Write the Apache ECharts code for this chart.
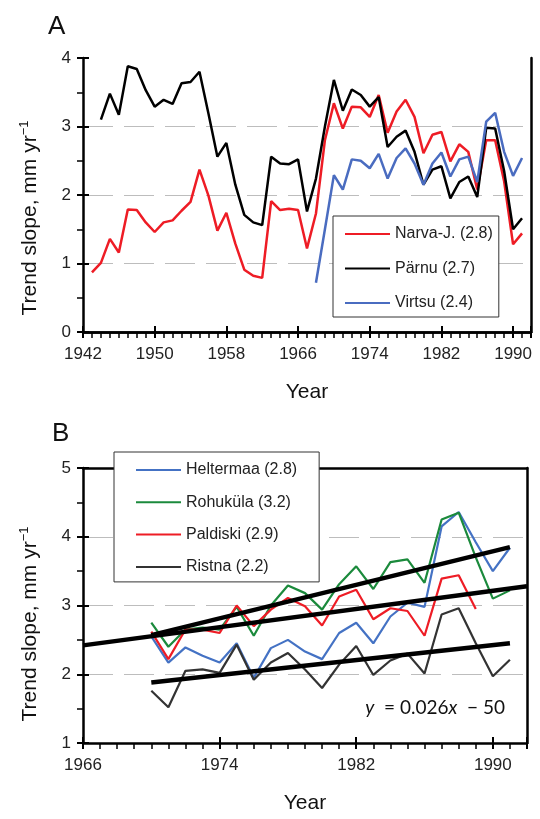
<!DOCTYPE html>
<html>
<head>
<meta charset="utf-8">
<title>Trend slope</title>
<script src="https://cdn.jsdelivr.net/npm/echarts@6/dist/echarts.min.js"></script>
<style>
  html, body { margin: 0; padding: 0; background: #fff; }
  #chart { width: 540px; height: 819px; }
</style>
</head>
<body>
<div id="chart"></div>
<script>
// ---- panel A: one value per year, from the first year on ----
var narvaStart = 1943;
var narvaVals = [0.87, 1.01, 1.36, 1.16, 1.79, 1.78, 1.60, 1.46, 1.60, 1.63,
                 1.77, 1.90, 2.37, 1.99, 1.48, 1.74, 1.29, 0.91, 0.82, 0.79,
                 1.91, 1.78, 1.80, 1.78, 1.22, 1.73, 2.80, 3.34, 2.97, 3.29,
                 3.28, 3.14, 3.46, 2.91, 3.22, 3.39, 3.14, 2.61, 2.88, 2.92,
                 2.49, 2.74, 2.63, 2.08, 2.80, 2.80, 2.20, 1.28, 1.44];
var parnuStart = 1944;
var parnuVals = [3.10, 3.48, 3.17, 3.88, 3.84, 3.53, 3.29, 3.39, 3.33, 3.63,
                 3.65, 3.80, 3.19, 2.56, 2.76, 2.15, 1.71, 1.60, 1.56, 2.56,
                 2.46, 2.45, 2.52, 1.76, 2.24, 3.00, 3.68, 3.23, 3.54, 3.46,
                 3.29, 3.43, 2.70, 2.85, 2.94, 2.63, 2.15, 2.37, 2.42, 1.95,
                 2.19, 2.27, 1.97, 2.98, 2.97, 2.35, 1.50, 1.66];
var virtsuStart = 1968;
var virtsuVals = [0.72, 1.50, 2.29, 2.08, 2.52, 2.50, 2.39, 2.60, 2.24, 2.54,
                  2.68, 2.46, 2.15, 2.46, 2.62, 2.27, 2.52, 2.56, 2.19, 3.07,
                  3.20, 2.63, 2.28, 2.54];

// ---- panel B ----
var startB = 1970;
var heltermaaVals = [2.55, 2.17, 2.39, 2.27, 2.17, 2.45, 1.95, 2.38, 2.50, 2.33,
                     2.22, 2.60, 2.75, 2.45, 2.84, 3.04, 2.98, 4.15, 4.36, 3.92,
                     3.50, 3.84];
var rohukulaVals = [2.75, 2.40, 2.65, 2.68, 2.65, 2.98, 2.56, 3.00, 3.29, 3.18,
                    2.94, 3.31, 3.57, 3.24, 3.63, 3.67, 3.33, 4.25, 4.35, 3.70,
                    3.10, 3.22];
var paldiskiVals = [2.62, 2.22, 2.65, 2.65, 2.60, 3.00, 2.70, 2.94, 3.11, 2.99,
                    2.71, 3.13, 3.23, 2.80, 2.96, 2.92, 2.56, 3.39, 3.44, 2.95];
var ristnaVals = [1.76, 1.52, 2.05, 2.07, 2.02, 2.43, 1.92, 2.17, 2.31, 2.07,
                  1.80, 2.14, 2.41, 1.99, 2.20, 2.30, 2.01, 2.87, 2.96, 2.45,
                  1.97, 2.21];

// fitted trend lines, end points [year, value]
var trendTop = [[1970, 2.57], [1991, 3.85]];
var trendMid = [[1966, 2.42], [1992, 3.28]];
var trendLow = [[1970, 1.88], [1991, 2.45]];

var xTicksA = [1942, 1950, 1958, 1966, 1974, 1982, 1990];
var xTicksB = [1966, 1974, 1982, 1990];
var namesA = ['Narva-J. (2.8)', 'Pärnu (2.7)', 'Virtsu (2.4)'];
var namesB = ['Heltermaa (2.8)', 'Rohuküla (3.2)', 'Paldiski (2.9)', 'Ristna (2.2)'];

var FONT = '"Liberation Sans", Arial, sans-serif';

function toPairs(start, vals) {
  return vals.map(function (v, i) { return [start + i, v]; });
}

// x axes of one panel: main, inner half of the major ticks, top frame
function xAxes(gi, ticks, max) {
  var base = { type: 'value', gridIndex: gi, min: ticks[0], max: max, interval: ticks[1] - ticks[0] };
  return [
    Object.assign({}, base, {
      position: 'bottom',
      axisLine: { lineStyle: { color: '#000', width: 2.5 } },
      axisTick: { length: 6, lineStyle: { color: '#000', width: 2 } },
      minorTick: { show: true, splitNumber: 8, length: 6, lineStyle: { color: '#000', width: 1.5 } },
      axisLabel: {
        margin: 14, fontSize: 17, color: '#222', fontFamily: FONT,
        formatter: function (v) { return ticks.indexOf(v) >= 0 ? String(v) : ''; }
      },
      splitLine: { show: false },
      name: 'Year', nameLocation: 'middle', nameGap: 50,
      nameTextStyle: { fontSize: 21, color: '#111', fontFamily: FONT }
    }),
    Object.assign({}, base, {
      position: 'bottom',
      axisLine: { show: false },
      axisTick: { inside: true, length: 6, lineStyle: { color: '#000', width: 2 } },
      axisLabel: { show: false }, splitLine: { show: false }
    }),
    Object.assign({}, base, {
      position: 'top',
      axisLine: { lineStyle: { color: '#000', width: 2.5 } },
      axisTick: { show: false }, axisLabel: { show: false }, splitLine: { show: false }
    })
  ];
}

function yAxes(gi, min, max) {
  var base = { type: 'value', gridIndex: gi, min: min, max: max, interval: 1 };
  return [
    Object.assign({}, base, {
      position: 'left',
      axisLine: { lineStyle: { color: '#000', width: 2.5 } },
      axisTick: { length: 6, lineStyle: { color: '#000', width: 2 } },
      minorTick: { show: true, splitNumber: 2, length: 6, lineStyle: { color: '#000', width: 1.5 } },
      axisLabel: { margin: 12, fontSize: 17, color: '#222', fontFamily: FONT },
      splitLine: {
        show: true, showMinLine: false, showMaxLine: false,
        lineStyle: { color: '#bdbdbd', width: 1.2, type: [30, 11] }
      }
    }),
    Object.assign({}, base, {
      position: 'left',
      axisLine: { show: false },
      axisTick: { inside: true, length: 6, lineStyle: { color: '#000', width: 2 } },
      axisLabel: { show: false }, splitLine: { show: false }
    }),
    Object.assign({}, base, {
      position: 'right',
      axisLine: { lineStyle: { color: '#000', width: 2.5 } },
      axisTick: { show: false }, axisLabel: { show: false }, splitLine: { show: false }
    })
  ];
}

function station(name, start, vals, color, width, xi, yi) {
  return {
    type: 'line', name: name, xAxisIndex: xi, yAxisIndex: yi,
    data: toPairs(start, vals), symbol: 'none',
    lineStyle: { color: color, width: width }, itemStyle: { color: color }
  };
}

function trend(points) {
  return {
    type: 'line', xAxisIndex: 3, yAxisIndex: 3, data: points, symbol: 'none',
    lineStyle: { color: '#000', width: 4.5 }, z: 3
  };
}

function yName(cy) {
  return {
    type: 'text', x: 30, y: cy, rotation: Math.PI / 2,
    style: {
      text: '{t|Trend slope, mm yr}{s|−1}', align: 'center', verticalAlign: 'middle', fill: '#111',
      rich: {
        t: { fontSize: 21, lineHeight: 25, fontFamily: FONT, fill: '#111' },
        s: { fontSize: 13, verticalAlign: 'top', fontFamily: FONT, fill: '#111' }
      }
    }
  };
}

var chart = echarts.init(document.getElementById('chart'));

var option = {
  animation: false,
  backgroundColor: '#fff',
  grid: [
    { left: 83, right: 9, top: 58, bottom: 487 },
    { left: 83, right: 13, top: 468, bottom: 76 }
  ],
  xAxis: xAxes(0, xTicksA, 1992).concat(xAxes(1, xTicksB, 1992)),
  yAxis: yAxes(0, 0, 4).concat(yAxes(1, 1, 5)),
  legend: [
    {
      data: namesA, orient: 'vertical', left: 333, top: 216,
      itemWidth: 45, itemHeight: 18, itemGap: 16.5, padding: [9, 6, 5, 11],
      borderColor: '#333', borderWidth: 1, backgroundColor: '#fff',
      itemStyle: { opacity: 0 },
      textStyle: { fontSize: 16, lineHeight: 18, color: '#222', fontFamily: FONT }
    },
    {
      data: namesB, orient: 'vertical', left: 114, top: 452,
      itemWidth: 45, itemHeight: 18, itemGap: 14.3, padding: [9, 22, 6, 21],
      borderColor: '#333', borderWidth: 1, backgroundColor: '#fff',
      itemStyle: { opacity: 0 },
      textStyle: { fontSize: 16, lineHeight: 18, color: '#222', fontFamily: FONT }
    }
  ],
  graphic: [
    { type: 'text', left: 48, top: 14, style: { text: 'A', fontSize: 26, fill: '#111', fontFamily: FONT } },
    { type: 'text', left: 52, top: 421, style: { text: 'B', fontSize: 26, fill: '#111', fontFamily: FONT } },
    yName(218),
    yName(624),
    {
      type: 'text', x: 505, y: 708, z: 10,
      style: {
        text: '{i|y}{n|  = 0.026}{i|x}{n|  − 50}', align: 'right', verticalAlign: 'middle',
        rich: {
          i: { fontSize: 19, fontStyle: 'italic', fontFamily: 'Lato, sans-serif', fill: '#111' },
          n: { fontSize: 19, fontFamily: 'Lato, sans-serif', fill: '#111' }
        }
      }
    }
  ],
  series: [
    station(namesA[0], narvaStart, narvaVals, '#ee1c25', 2.5, 0, 0),
    station(namesA[1], parnuStart, parnuVals, '#000000', 2.5, 0, 0),
    station(namesA[2], virtsuStart, virtsuVals, '#4a6cc0', 2.5, 0, 0),
    station(namesB[0], startB, heltermaaVals, '#4472c4', 2.2, 3, 3),
    station(namesB[1], startB, rohukulaVals, '#1b8a3c', 2.2, 3, 3),
    station(namesB[2], startB, paldiskiVals, '#ee1c25', 2.2, 3, 3),
    station(namesB[3], startB, ristnaVals, '#333333', 2.2, 3, 3),
    trend(trendTop),
    trend(trendMid),
    trend(trendLow)
  ]
};

chart.setOption(option);
</script>
</body>
</html>
